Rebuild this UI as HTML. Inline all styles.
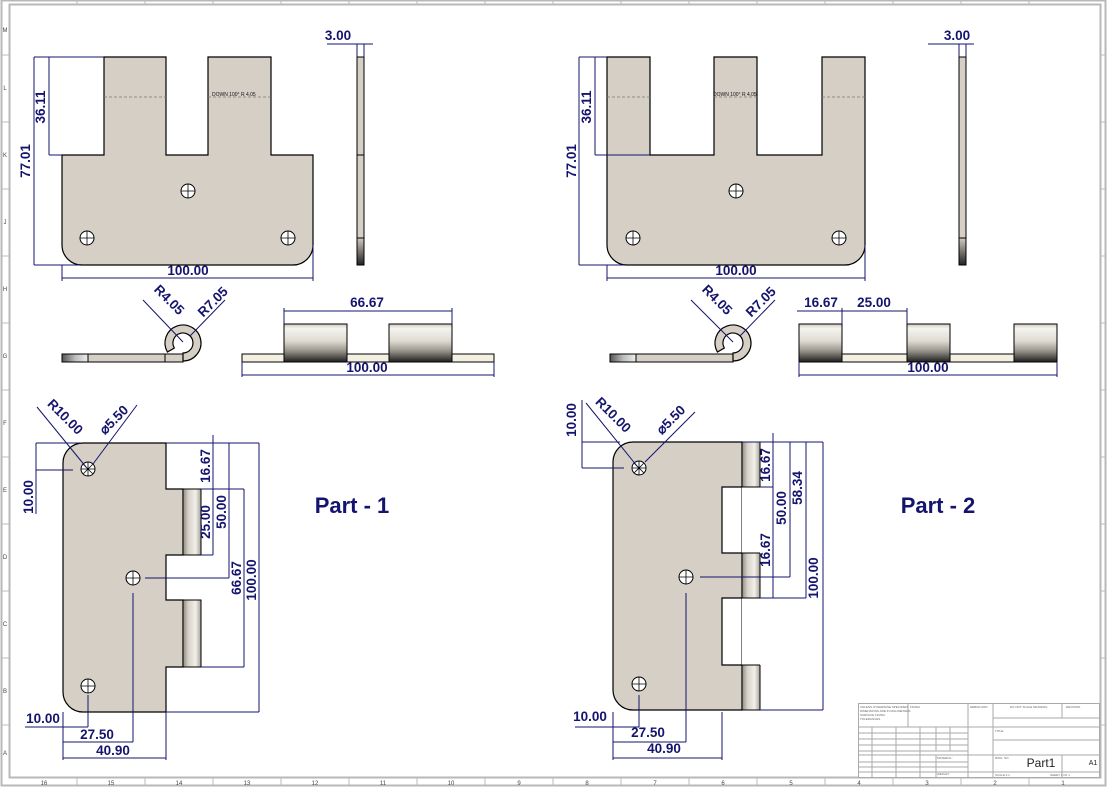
<!DOCTYPE html>
<html><head><meta charset="utf-8"><style>
html,body{margin:0;padding:0;background:#fff;}
svg{display:block}
.d{fill:#14146e;font-family:"Liberation Sans",sans-serif;font-weight:bold;font-size:13.5px;}
.dl{stroke:#14146e;stroke-width:1;fill:none}
.o{stroke:#000;stroke-width:1.2;}
.tb{stroke:#aaa;stroke-width:1;fill:none}
.z{font-family:"Liberation Sans",sans-serif;font-size:6px;fill:#444}
</style></head><body>
<svg width="1107" height="787" viewBox="0 0 1107 787" xmlns="http://www.w3.org/2000/svg">
<defs>
<linearGradient id="cyl" x1="0" y1="0" x2="0" y2="1">
<stop offset="0" stop-color="#cfcac0"/><stop offset="0.12" stop-color="#f6f4ef"/><stop offset="0.45" stop-color="#dedad2"/><stop offset="0.7" stop-color="#9a968e"/><stop offset="1" stop-color="#1e1e1e"/></linearGradient>
<linearGradient id="side" x1="0" y1="0" x2="0" y2="1">
<stop offset="0" stop-color="#d0cbc2"/><stop offset="1" stop-color="#222"/></linearGradient>
<linearGradient id="endg" x1="0" y1="0" x2="1" y2="0">
<stop offset="0" stop-color="#555"/><stop offset="0.5" stop-color="#bbb"/><stop offset="1" stop-color="#eee"/></linearGradient>
<linearGradient id="roll" x1="0" y1="0" x2="1" y2="0">
<stop offset="0" stop-color="#8f8a80"/><stop offset="0.3" stop-color="#d7d2c9"/><stop offset="0.7" stop-color="#f2efe9"/><stop offset="1" stop-color="#a8a398"/></linearGradient>
</defs>
<!-- frame -->
<rect x="1.5" y="0.5" width="1104" height="785" fill="none" stroke="#b8b8b8" stroke-width="2"/>
<rect x="9.5" y="4.5" width="1091" height="773" fill="none" stroke="#b8b8b8" stroke-width="2"/>
<g stroke="#bbb" stroke-width="1">
<line x1="77" y1="0" x2="77" y2="4"/><line x1="145" y1="0" x2="145" y2="4"/><line x1="213" y1="0" x2="213" y2="4"/><line x1="281" y1="0" x2="281" y2="4"/><line x1="349" y1="0" x2="349" y2="4"/><line x1="417" y1="0" x2="417" y2="4"/><line x1="485" y1="0" x2="485" y2="4"/><line x1="553" y1="0" x2="553" y2="4"/><line x1="621" y1="0" x2="621" y2="4"/><line x1="689" y1="0" x2="689" y2="4"/><line x1="757" y1="0" x2="757" y2="4"/><line x1="825" y1="0" x2="825" y2="4"/><line x1="893" y1="0" x2="893" y2="4"/><line x1="961" y1="0" x2="961" y2="4"/><line x1="1029" y1="0" x2="1029" y2="4"/>
<line x1="77" y1="777" x2="77" y2="786"/><line x1="145" y1="777" x2="145" y2="786"/><line x1="213" y1="777" x2="213" y2="786"/><line x1="281" y1="777" x2="281" y2="786"/><line x1="349" y1="777" x2="349" y2="786"/><line x1="417" y1="777" x2="417" y2="786"/><line x1="485" y1="777" x2="485" y2="786"/><line x1="553" y1="777" x2="553" y2="786"/><line x1="621" y1="777" x2="621" y2="786"/><line x1="689" y1="777" x2="689" y2="786"/><line x1="757" y1="777" x2="757" y2="786"/><line x1="825" y1="777" x2="825" y2="786"/><line x1="893" y1="777" x2="893" y2="786"/><line x1="961" y1="777" x2="961" y2="786"/><line x1="1029" y1="777" x2="1029" y2="786"/>
<line x1="2" y1="55" x2="9" y2="55"/><line x1="2" y1="122" x2="9" y2="122"/><line x1="2" y1="189" x2="9" y2="189"/><line x1="2" y1="256" x2="9" y2="256"/><line x1="2" y1="323" x2="9" y2="323"/><line x1="2" y1="390" x2="9" y2="390"/><line x1="2" y1="457" x2="9" y2="457"/><line x1="2" y1="524" x2="9" y2="524"/><line x1="2" y1="591" x2="9" y2="591"/><line x1="2" y1="658" x2="9" y2="658"/><line x1="2" y1="725" x2="9" y2="725"/>
<line x1="1100" y1="55" x2="1106" y2="55"/><line x1="1100" y1="122" x2="1106" y2="122"/><line x1="1100" y1="189" x2="1106" y2="189"/><line x1="1100" y1="256" x2="1106" y2="256"/><line x1="1100" y1="323" x2="1106" y2="323"/><line x1="1100" y1="390" x2="1106" y2="390"/><line x1="1100" y1="457" x2="1106" y2="457"/><line x1="1100" y1="524" x2="1106" y2="524"/><line x1="1100" y1="591" x2="1106" y2="591"/><line x1="1100" y1="658" x2="1106" y2="658"/><line x1="1100" y1="725" x2="1106" y2="725"/>
</g>
<g class="z" text-anchor="middle">
<text x="44" y="785">16</text><text x="111" y="785">15</text><text x="179" y="785">14</text><text x="247" y="785">13</text><text x="315" y="785">12</text><text x="383" y="785">11</text><text x="451" y="785">10</text><text x="519" y="785">9</text><text x="587" y="785">8</text><text x="655" y="785">7</text><text x="723" y="785">6</text><text x="791" y="785">5</text><text x="859" y="785">4</text><text x="927" y="785">3</text><text x="995" y="785">2</text><text x="1063" y="785">1</text>
<text x="5" y="32">M</text><text x="5" y="90">L</text><text x="5" y="157">K</text><text x="5" y="224">J</text><text x="5" y="291">H</text><text x="5" y="358">G</text><text x="5" y="425">F</text><text x="5" y="492">E</text><text x="5" y="559">D</text><text x="5" y="626">C</text><text x="5" y="693">B</text><text x="5" y="755">A</text>
</g>

<!-- ========== PART 1 top view ========== -->
<path class="o" fill="#d5cfc5" d="M104,57 H166 V155 H208 V57 H271 V155 H313 V245 A20,20 0 0 1 293,265 H82 A20,20 0 0 1 62,245 V155 H104 Z"/>
<line x1="104" y1="97" x2="166" y2="97" stroke="#777" stroke-dasharray="3,2" stroke-width="0.7"/>
<line x1="208" y1="97" x2="271" y2="97" stroke="#777" stroke-dasharray="3,2" stroke-width="0.7"/>
<text x="212" y="96" font-size="5" font-family="Liberation Sans" fill="#111">DOWN 100° R 4.05</text>
<g stroke="#000" fill="#fff" stroke-width="1">
<circle cx="188" cy="191" r="7"/><circle cx="87" cy="238" r="7"/><circle cx="288" cy="238" r="7"/></g>
<g stroke="#000" stroke-width="0.8"><path d="M181,191h14M188,184v14M80,238h14M87,231v14M281,238h14M288,231v14"/></g>
<g class="dl">
<path d="M34,57V265M34,57H104M34,265H80M49,57V155M49,155H62M49,57H104"/>
<path d="M62,265V281M313,245V281M62,278H313"/>
<path d="M327,44H373M357,44V57M364,44V57"/>
</g>
<text class="d" transform="translate(30,161) rotate(-90)" text-anchor="middle">77.01</text>
<text class="d" transform="translate(45,107) rotate(-90)" text-anchor="middle">36.11</text>
<text class="d" x="188" y="275" text-anchor="middle">100.00</text>
<text class="d" x="338" y="40" text-anchor="middle">3.00</text>
<!-- side view -->
<rect x="357" y="57" width="7" height="181" fill="#d5cfc5" stroke="#000"/>
<rect x="357" y="238" width="7" height="27" fill="url(#side)" stroke="#000"/>
<line x1="357" y1="155" x2="364" y2="155" stroke="#000"/>
<!-- bend view -->
<rect x="62" y="354" width="121" height="8" fill="#d5cfc5" stroke="#000"/>
<path class="o" fill="#d5cfc5" d="M167.4,352 A18,18 0 1 1 183,361 L183,353 A10,10 0 1 0 174.3,348 Z"/>
<rect x="62" y="354" width="26" height="8" fill="url(#endg)" stroke="#000"/>
<line x1="165" y1="354" x2="165" y2="362" stroke="#000"/>
<g class="dl"><path d="M143,300L183,342M225,300L190,336"/></g>
<text class="d" transform="translate(166,303) rotate(45)" text-anchor="middle">R4.05</text>
<text class="d" transform="translate(216,305) rotate(-45)" text-anchor="middle">R7.05</text>
<!-- front view -->
<rect x="242" y="354" width="252" height="8" fill="#f3efe2" stroke="#000"/>
<rect x="284" y="324" width="63" height="38" fill="url(#cyl)" stroke="#000"/>
<rect x="389" y="324" width="63" height="38" fill="url(#cyl)" stroke="#000"/>
<g class="dl"><path d="M284,311H452M284,308V324M452,308V324M242,362V377M494,362V377M242,375H494"/></g>
<text class="d" x="367" y="307" text-anchor="middle">66.67</text>
<text class="d" x="367" y="372" text-anchor="middle">100.00</text>

<!-- ========== PART 1 bottom view ========== -->
<path class="o" fill="#d5cfc5" d="M83,443 H166 V489 H183 V555 H166 V600 H183 V667 H166 V712 H83 A20,20 0 0 1 63,692 V463 A20,20 0 0 1 83,443 Z"/>
<rect x="183" y="489" width="18" height="66" fill="url(#roll)" stroke="#000"/>
<rect x="183" y="600" width="18" height="67" fill="url(#roll)" stroke="#000"/>
<g stroke="#000" fill="#fff" stroke-width="1"><circle cx="88" cy="469" r="7"/><circle cx="133" cy="578" r="7"/><circle cx="88" cy="686" r="7"/></g>
<g stroke="#000" stroke-width="0.8"><path d="M81,469h14M88,462v14M126,578h14M133,571v14M81,686h14M88,679v14M83,464l10,10M93,464l-10,10"/></g>
<g class="dl">
<path d="M37,407L86,467M137,405L93,464"/>
<path d="M36,443H80M36,470H73M36,443V514"/>
<path d="M166,443H259M201,489H244M201,555H213M145,578H229M201,667H244M166,712H259"/>
<path d="M213,435V555M229,443V578M244,489V667M259,443V712"/>
<path d="M25,727H88M63,712V760M88,695V727M133,593V742M166,712V760M63,742H133M63,758H166"/>
</g>
<text class="d" transform="translate(62,420) rotate(45)" text-anchor="middle">R10.00</text>
<text class="d" transform="translate(117,423) rotate(-45)" text-anchor="middle">⌀5.50</text>
<text class="d" transform="translate(33,497) rotate(-90)" text-anchor="middle">10.00</text>
<text class="d" transform="translate(210,466) rotate(-90)" text-anchor="middle">16.67</text>
<text class="d" transform="translate(210,522) rotate(-90)" text-anchor="middle">25.00</text>
<text class="d" transform="translate(226,512) rotate(-90)" text-anchor="middle">50.00</text>
<text class="d" transform="translate(241,578) rotate(-90)" text-anchor="middle">66.67</text>
<text class="d" transform="translate(256,580) rotate(-90)" text-anchor="middle">100.00</text>
<text class="d" x="43" y="723" text-anchor="middle">10.00</text>
<text class="d" x="97" y="739" text-anchor="middle">27.50</text>
<text class="d" x="113" y="755" text-anchor="middle">40.90</text>
<text class="d" x="352" y="513" text-anchor="middle" style="font-size:22px">Part - 1</text>

<!-- ========== PART 2 top view ========== -->
<path class="o" fill="#d5cfc5" d="M607,57 H650 V155 H714 V57 H757 V155 H822 V57 H865 V245 A20,20 0 0 1 845,265 H627 A20,20 0 0 1 607,245 Z"/>
<line x1="607" y1="97" x2="650" y2="97" stroke="#777" stroke-dasharray="3,2" stroke-width="0.7"/>
<line x1="714" y1="97" x2="757" y2="97" stroke="#777" stroke-dasharray="3,2" stroke-width="0.7"/>
<line x1="822" y1="97" x2="865" y2="97" stroke="#777" stroke-dasharray="3,2" stroke-width="0.7"/>
<text x="713" y="96" font-size="5" font-family="Liberation Sans" fill="#111">DOWN 100° R 4.05</text>
<g stroke="#000" fill="#fff" stroke-width="1"><circle cx="736" cy="191" r="7"/><circle cx="633" cy="238" r="7"/><circle cx="839" cy="238" r="7"/></g>
<g stroke="#000" stroke-width="0.8"><path d="M729,191h14M736,184v14M626,238h14M633,231v14M832,238h14M839,231v14"/></g>
<g class="dl">
<path d="M579,57V265M579,57H607M579,265H625M595,57V155M595,155H650"/>
<path d="M607,265V281M865,245V281M607,278H865"/>
<path d="M928,44H974M959,44V57M966,44V57"/>
</g>
<text class="d" transform="translate(576,161) rotate(-90)" text-anchor="middle">77.01</text>
<text class="d" transform="translate(591,107) rotate(-90)" text-anchor="middle">36.11</text>
<text class="d" x="736" y="275" text-anchor="middle">100.00</text>
<text class="d" x="957" y="40" text-anchor="middle">3.00</text>
<rect x="959" y="57" width="7" height="181" fill="#d5cfc5" stroke="#000"/>
<rect x="959" y="238" width="7" height="27" fill="url(#side)" stroke="#000"/>
<!-- bend view -->
<rect x="610" y="354" width="123" height="8" fill="#d5cfc5" stroke="#000"/>
<path class="o" fill="#d5cfc5" d="M717.4,352 A18,18 0 1 1 733,361 L733,353 A10,10 0 1 0 724.3,348 Z"/>
<rect x="610" y="354" width="26" height="8" fill="url(#endg)" stroke="#000"/>
<g class="dl"><path d="M691,300L733,342M775,300L740,336"/></g>
<text class="d" transform="translate(714,303) rotate(45)" text-anchor="middle">R4.05</text>
<text class="d" transform="translate(764,305) rotate(-45)" text-anchor="middle">R7.05</text>
<!-- front view -->
<rect x="799" y="354" width="258" height="8" fill="#f3efe2" stroke="#000"/>
<rect x="799" y="324" width="43" height="38" fill="url(#cyl)" stroke="#000"/>
<rect x="907" y="324" width="43" height="38" fill="url(#cyl)" stroke="#000"/>
<rect x="1014" y="324" width="43" height="38" fill="url(#cyl)" stroke="#000"/>
<g class="dl"><path d="M797,311H907M842,308V324M907,308V324M799,362V377M1057,362V377M799,375H1057"/></g>
<text class="d" x="821" y="307" text-anchor="middle">16.67</text>
<text class="d" x="874" y="307" text-anchor="middle">25.00</text>
<text class="d" x="928" y="372" text-anchor="middle">100.00</text>

<!-- ========== PART 2 bottom view ========== -->
<path class="o" fill="#d5cfc5" d="M633,442 H742 V487 H722 V553 H742 V598 H722 V665 H742 V710 H633 A20,20 0 0 1 613,690 V462 A20,20 0 0 1 633,442 Z"/>
<rect x="742" y="442" width="18" height="268" fill="url(#roll)" stroke="#000"/>
<rect x="742" y="487" width="20" height="66" fill="#fff"/>
<rect x="742" y="598" width="20" height="67" fill="#fff"/>
<path d="M722,487H760M722,553H760M722,598H760M722,665H760" stroke="#000"/>
<g stroke="#000" fill="#fff" stroke-width="1"><circle cx="639" cy="468" r="7"/><circle cx="686" cy="577" r="7"/><circle cx="639" cy="684" r="7"/></g>
<g stroke="#000" stroke-width="0.8"><path d="M632,468h14M639,461v14M679,577h14M686,570v14M632,684h14M639,677v14M634,463l10,10M644,463l-10,10"/></g>
<g class="dl">
<path d="M586,403L637,466M695,412L645,462"/>
<path d="M582,442H620M582,468H624M582,400V468"/>
<path d="M742,442H823M760,487H773M700,577H790M760,598H806M760,710H823"/>
<path d="M773,433V598M790,442V577M806,442V598M823,442V710"/>
<path d="M575,727H639M613,712V760M639,695V727M686,593V742M722,712V760M613,742H686M613,758H722"/>
</g>
<text class="d" transform="translate(576,420) rotate(-90)" text-anchor="middle">10.00</text>
<text class="d" transform="translate(610,418) rotate(45)" text-anchor="middle">R10.00</text>
<text class="d" transform="translate(674,423) rotate(-45)" text-anchor="middle">⌀5.50</text>
<text class="d" transform="translate(770,465) rotate(-90)" text-anchor="middle">16.67</text>
<text class="d" transform="translate(770,550) rotate(-90)" text-anchor="middle">16.67</text>
<text class="d" transform="translate(786,508) rotate(-90)" text-anchor="middle">50.00</text>
<text class="d" transform="translate(802,488) rotate(-90)" text-anchor="middle">58.34</text>
<text class="d" transform="translate(818,578) rotate(-90)" text-anchor="middle">100.00</text>
<text class="d" x="590" y="721" text-anchor="middle">10.00</text>
<text class="d" x="648" y="737" text-anchor="middle">27.50</text>
<text class="d" x="664" y="753" text-anchor="middle">40.90</text>
<text class="d" x="938" y="513" text-anchor="middle" style="font-size:22px">Part - 2</text>

<!-- title block -->
<rect x="858.5" y="703.5" width="241" height="74" fill="#fff" stroke="#aaa"/>
<g class="tb">
<path d="M858,727H1100M858,733H968M858,739H968M858,745H968M858,751H968M858,755H1100M858,762H968M858,767H968M858,772H1100"/>
<path d="M993,718H1100M993,740H1100"/>
<path d="M908,703V727M968,703V777M993,703V777M1062,703V718M1062,755V777"/>
<path d="M872,727V777M896,727V777M920,727V777M936,727V751M950,727V751M936,755V777"/>
</g>
<g fill="#666" font-family="Liberation Sans" font-size="3">
<text x="860" y="708">UNLESS OTHERWISE SPECIFIED</text><text x="860" y="712">DIMENSIONS ARE IN MILLIMETERS</text><text x="860" y="716">SURFACE FINISH</text><text x="860" y="720">TOLERANCES</text>
<text x="910" y="708">FINISH</text><text x="970" y="708">DEBUR AND</text><text x="1010" y="708">DO NOT SCALE DRAWING</text><text x="1066" y="708">REVISION</text>
<text x="995" y="732">TITLE:</text><text x="995" y="759">DWG. NO.</text><text x="937" y="759">MATERIAL:</text><text x="937" y="775">WEIGHT:</text><text x="995" y="776">SCALE:1:1</text><text x="1050" y="776">SHEET 1 OF 1</text>
</g>
<text x="1041" y="767" text-anchor="middle" font-family="Liberation Sans" font-size="12" fill="#222">Part1</text>
<text x="1093" y="765" text-anchor="middle" font-family="Liberation Sans" font-size="7" fill="#222">A1</text>
</svg>
</body></html>
